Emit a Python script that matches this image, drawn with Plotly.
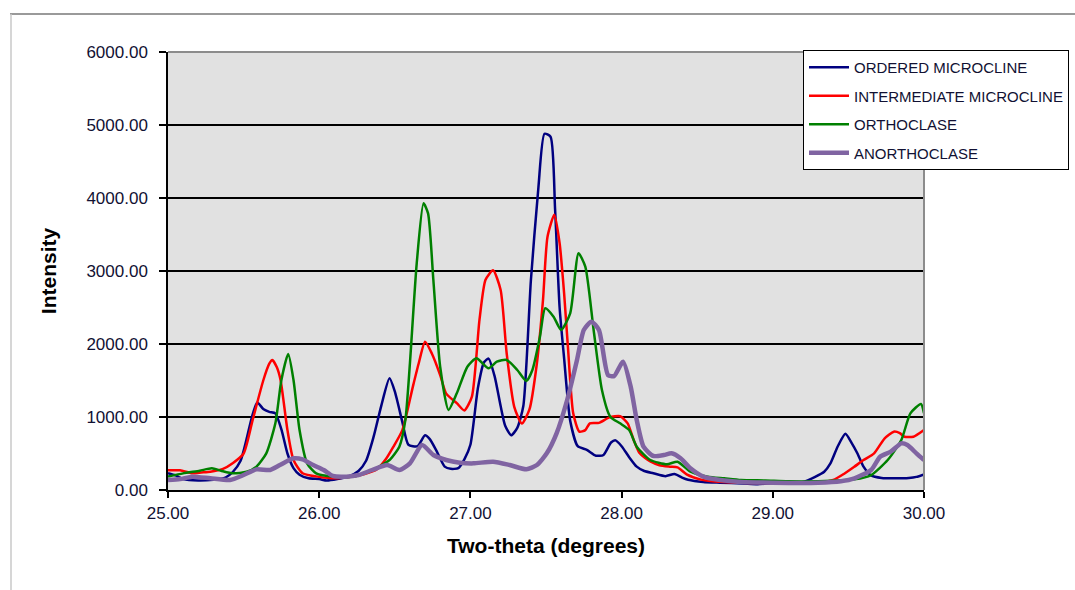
import plotly.graph_objects as go

# ---- data ----
series_names = ["ORDERED MICROCLINE", "INTERMEDIATE MICROCLINE", "ORTHOCLASE", "ANORTHOCLASE"]

ordered_x = [25.00, 25.05, 25.10, 25.20, 25.30, 25.38, 25.43, 25.48, 25.52, 25.555, 25.59, 25.63, 25.67, 25.71,
             25.75, 25.79, 25.83, 25.87, 25.93, 26.00, 26.05, 26.12, 26.20, 26.26, 26.31, 26.36, 26.41, 26.465,
             26.50, 26.55, 26.59, 26.65, 26.70, 26.73, 26.77, 26.83, 26.87, 26.92, 26.96, 27.00, 27.05, 27.09,
             27.12, 27.16, 27.20, 27.23, 27.27, 27.31, 27.35, 27.40, 27.45, 27.49, 27.53, 27.56, 27.59, 27.62,
             27.66, 27.71, 27.77, 27.83, 27.88, 27.93, 27.96, 28.00, 28.05, 28.10, 28.15, 28.21, 28.29, 28.35,
             28.40, 28.44, 28.54, 28.65, 28.80, 28.90, 29.00, 29.10, 29.20, 29.28, 29.34, 29.38, 29.43, 29.48,
             29.52, 29.56, 29.60, 29.65, 29.72, 29.80, 29.90, 29.95, 30.00]
ordered_y = [230, 200, 150, 130, 140, 170, 250, 400, 700, 1000, 1200, 1110, 1070, 1050,
             830, 500, 300, 210, 160, 150, 130, 150, 190, 260, 400, 730, 1150, 1530,
             1350, 930, 620, 600, 750, 700, 560, 320, 290, 300, 420, 620, 1400, 1750,
             1800, 1560, 1150, 880, 750, 850, 1150, 2870, 4150, 4880, 4840, 3850, 2500, 1800,
             950, 600, 550, 470, 480, 650, 680, 600, 450, 320, 260, 230, 190, 220,
             170, 140, 110, 100, 90, 80, 95, 100, 110, 180, 250, 360, 600, 770,
             650, 500, 320, 200, 165, 160, 165, 180, 215]

inter_x = [25.00, 25.08, 25.16, 25.22, 25.28, 25.36, 25.43, 25.50, 25.56, 25.63, 25.67, 25.69, 25.72, 25.745,
           25.79, 25.83, 25.89, 26.00, 26.10, 26.22, 26.30, 26.38, 26.44, 26.49, 26.55, 26.62, 26.66, 26.70,
           26.745, 26.80, 26.84, 26.91, 26.96, 27.01, 27.06, 27.10, 27.15, 27.20, 27.24, 27.29, 27.34, 27.39,
           27.44, 27.48, 27.51, 27.555, 27.59, 27.62, 27.645, 27.68, 27.72, 27.76, 27.79, 27.85, 27.92, 27.99,
           28.04, 28.08, 28.12, 28.19, 28.25, 28.32, 28.37, 28.43, 28.52, 28.60, 28.70, 28.90, 29.10, 29.30,
           29.40, 29.47, 29.54, 29.60, 29.67, 29.74, 29.80, 29.84, 29.87, 29.93, 30.00]
inter_y = [270, 270, 230, 240, 250, 285, 370, 500, 960, 1500, 1730, 1780, 1680, 1500,
           820, 410, 230, 180, 160, 185, 220, 280, 420, 590, 820, 1420, 1750, 2030,
           1870, 1575, 1320, 1190, 1090, 1280, 2330, 2880, 3010, 2740, 1870, 1140, 910, 1100,
           1740, 2600, 3470, 3770, 3380, 2690, 1960, 1050, 800, 820, 913, 920, 995, 1010,
           913, 685, 502, 390, 340, 320, 310, 215, 146, 120, 105, 95, 100, 100,
           137, 220, 320, 410, 502, 708, 799, 780, 730, 730, 822]

ortho_x = [25.00, 25.10, 25.21, 25.29, 25.35, 25.43, 25.52, 25.585, 25.65, 25.71, 25.75, 25.795, 25.83, 25.87,
           25.92, 25.98, 26.10, 26.22, 26.35, 26.42, 26.47, 26.53, 26.57, 26.60, 26.645, 26.69, 26.72, 26.755,
           26.80, 26.855, 26.91, 26.98, 27.04, 27.12, 27.175, 27.24, 27.31, 27.37, 27.41, 27.46, 27.495, 27.55,
           27.60, 27.66, 27.715, 27.76, 27.815, 27.87, 27.925, 27.99, 28.05, 28.10, 28.19, 28.30, 28.37, 28.455,
           28.57, 28.68, 28.79, 28.95, 29.10, 29.30, 29.54, 29.65, 29.76, 29.85, 29.91, 29.98, 30.00]
ortho_y = [183, 228, 265, 297, 265, 228, 250, 320, 502, 913, 1507, 1863, 1507, 822,
           365, 228, 183, 183, 274, 350, 420, 593, 960, 1735, 3105, 3927, 3790, 2877,
           1689, 1096, 1324, 1689, 1804, 1667, 1758, 1781, 1644, 1493, 1644, 2100, 2489, 2374,
           2192, 2420, 3242, 3059, 2192, 1370, 1005, 913, 822, 593, 411, 352, 388, 251,
           183, 160, 137, 130, 120, 120, 146, 205, 411, 685, 1050, 1178, 1050]

anor_x = [25.00, 25.08, 25.16, 25.28, 25.41, 25.50, 25.585, 25.675, 25.74, 25.83, 25.89, 25.96, 26.03, 26.09,
          26.18, 26.26, 26.35, 26.45, 26.53, 26.60, 26.68, 26.755, 26.84, 26.93, 27.02, 27.15, 27.26, 27.37,
          27.44, 27.505, 27.57, 27.64, 27.705, 27.75, 27.80, 27.85, 27.91, 27.95, 28.01, 28.06, 28.10, 28.145,
          28.21, 28.28, 28.33, 28.39, 28.455, 28.54, 28.65, 28.79, 29.00, 29.30, 29.45, 29.54, 29.65, 29.71,
          29.78, 29.85, 29.89, 29.95, 30.00]
anor_y = [137, 150, 183, 160, 137, 205, 283, 274, 342, 434, 420, 342, 274, 192,
          183, 205, 274, 342, 274, 365, 616, 479, 411, 374, 365, 388, 342, 283,
          342, 502, 776, 1233, 1781, 2192, 2306, 2192, 1575, 1560, 1758, 1416, 959, 593,
          466, 480, 502, 434, 297, 183, 137, 110, 100, 100, 120, 160, 274, 456,
          525, 639, 616, 502, 411]

x_ticks = [25, 26, 27, 28, 29, 30]
y_ticks = [0, 1000, 2000, 3000, 4000, 5000, 6000]

colors = ["#000080", "#FF0000", "#008000", "#8064A2"]
widths = [2.5, 2.5, 2.5, 4.5]
xs = [ordered_x, inter_x, ortho_x, anor_x]
ys = [ordered_y, inter_y, ortho_y, anor_y]

fig = go.Figure()
for i, name in enumerate(series_names):
    fig.add_trace(go.Scatter(
        x=xs[i], y=ys[i], name=name, mode="lines",
        line=dict(color=colors[i], width=widths[i], shape="spline", smoothing=0.6),
        legendgroup=f"g{i}",
    ))

FONT = "Liberation Sans, Arial, sans-serif"

# plot area px: x 168..924, y 52..490
L, R, T, B = 168, 924, 52, 490
W, H = R - L, B - T

def px_x(p):
    return (p - L) / W

def px_y(p):
    return (B - p) / H

fig.update_layout(
    width=1075, height=590,
    margin=dict(l=L, r=1075 - R, t=T, b=590 - B, autoexpand=False),
    paper_bgcolor="white",
    plot_bgcolor="#E1E1E1",
    font=dict(family=FONT, color="#111111"),
    showlegend=True,
    legend=dict(
        x=px_x(803), y=px_y(50), xanchor="left", yanchor="top",
        bgcolor="white", bordercolor="#000000", borderwidth=1,
        font=dict(family=FONT, size=15, color="#111133"),
        traceorder="grouped", tracegroupgap=6, itemwidth=40,
    ),
    xaxis=dict(
        range=[25, 30], tickvals=x_ticks, tickformat=".2f",
        showgrid=False, zeroline=False,
        showline=True, linecolor="black", linewidth=1.5,
        ticks="outside", ticklen=6, tickcolor="black", tickwidth=1.5,
        tickfont=dict(family=FONT, size=17, color="#111133"),
        ticklabelstandoff=1,
        title=dict(text="<b>Two-theta (degrees)</b>", font=dict(family=FONT, size=21, color="black"), standoff=16),
    ),
    yaxis=dict(
        range=[0, 6000], tickvals=y_ticks, tickformat=".2f",
        showgrid=True, gridcolor="black", gridwidth=1.5, zeroline=False,
        showline=True, linecolor="black", linewidth=1.5,
        ticks="outside", ticklen=7, tickcolor="black", tickwidth=1.5,
        tickfont=dict(family=FONT, size=17, color="#111133"),
        ticklabelstandoff=8,
        title=dict(text="<b>Intensity</b>", font=dict(family=FONT, size=21, color="black"), standoff=24),
    ),
    shapes=[
        # grey plot-area border (top and right)
        dict(type="line", xref="paper", yref="paper", x0=0, x1=1, y0=1, y1=1,
             line=dict(color="#8C8C8C", width=2), layer="above"),
        dict(type="line", xref="paper", yref="paper", x0=1, x1=1, y0=0, y1=1,
             line=dict(color="#8C8C8C", width=2), layer="above"),
        # chart-area frame
        dict(type="line", xref="paper", yref="paper", x0=px_x(10), x1=px_x(1075), y0=px_y(14), y1=px_y(14),
             line=dict(color="#9A9A9A", width=2), layer="above"),
        dict(type="line", xref="paper", yref="paper", x0=px_x(11), x1=px_x(11), y0=px_y(14), y1=px_y(590),
             line=dict(color="#C8C8C8", width=1.5), layer="above"),
    ],
)

fig.write_html("out.html")
